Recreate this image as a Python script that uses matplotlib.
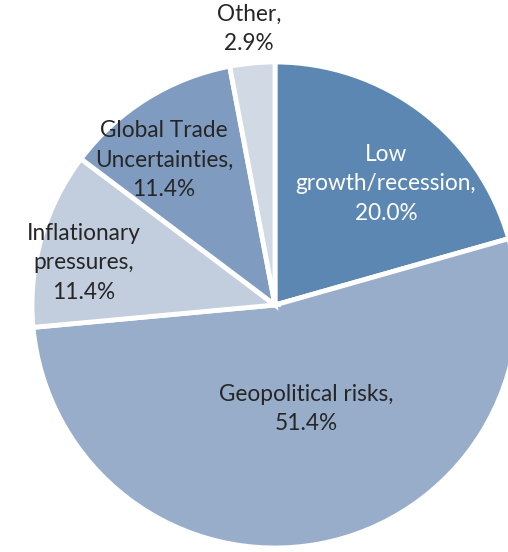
import numpy as np
import matplotlib.pyplot as plt

# Share of respondents by main risk
categories = ["Low\ngrowth/recession", "Geopolitical risks", "Inflationary\npressures",
              "Global Trade\nUncertainties", "Other"]
shares = [20.0, 51.4, 11.4, 11.4, 2.9]
colors = ["#5b87b2", "#98adc9", "#c2cddd", "#7f9cc0", "#d1d9e4"]
text_colors = ["white", "#262626", "#262626", "#262626", "#262626"]
# label centres in axes data units (pie radius = 1)
label_xy = [(0.457, 0.498), (0.128, -0.428), (-0.786, 0.173), (-0.457, 0.597), (-0.107, 1.135)]

W, H = 508, 552
fig = plt.figure(figsize=(W / 100, H / 100), dpi=100)
cx, cy, r = 275, 305, 243
ax = fig.add_axes([(cx - r) / W, (H - cy - r) / H, 2 * r / W, 2 * r / H])

ax.pie(shares, colors=colors, startangle=90, counterclock=False, radius=1,
       wedgeprops=dict(edgecolor="white", linewidth=3.5))
ax.set_xlim(-1, 1)
ax.set_ylim(-1, 1)
ax.set_aspect("equal")
ax.axis("off")

for name, val, (x, y), tc in zip(categories, shares, label_xy, text_colors):
    ax.text(x, y, f"{name},\n{val:.1f}%", ha="center", va="center", color=tc,
            fontsize=16.3, family="Lato", linespacing=1.48, clip_on=False)

fig.savefig("out.png", dpi=100)
